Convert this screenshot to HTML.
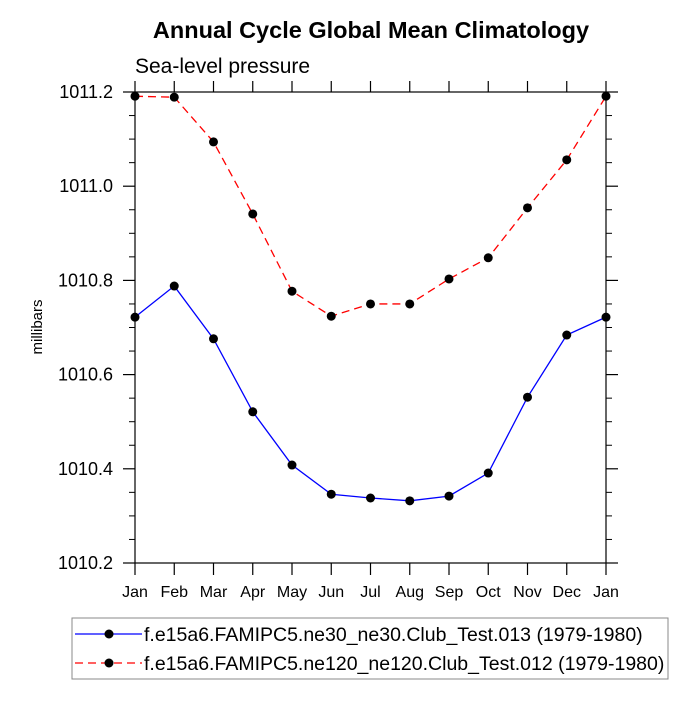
<!DOCTYPE html>
<html><head><meta charset="utf-8"><style>
html,body{margin:0;padding:0;background:#fff;}
svg text{font-family:"Liberation Sans",Arial,sans-serif;}
</style></head><body>
<svg id="chart" width="699" height="699" viewBox="0 0 699 699" xmlns="http://www.w3.org/2000/svg">
<text x="371" y="38" text-anchor="middle" font-size="23.5" font-weight="bold">Annual Cycle Global Mean Climatology</text>
<text x="135" y="73" font-size="21">Sea-level pressure</text>
<text transform="translate(42,327) rotate(-90)" text-anchor="middle" font-size="15">millibars</text>
<g id="axes"></g>
<g id="series"></g>
<rect x="72" y="618" width="596" height="61" fill="none" stroke="#888" stroke-width="1"/>
<g>
<line x1="75" y1="634" x2="142" y2="634" stroke="#0000ff" stroke-width="1.3"/>
<circle cx="109" cy="634" r="4.5" fill="#000"/>
<text x="144" y="641" font-size="19.5">f.e15a6.FAMIPC5.ne30_ne30.Club_Test.013 (1979-1980)</text>
</g>
<g>
<line x1="75" y1="663" x2="142" y2="663" stroke="#ff0000" stroke-width="1.3" stroke-dasharray="8,5"/>
<circle cx="109" cy="663" r="4.5" fill="#000"/>
<text x="144" y="670" font-size="19.5">f.e15a6.FAMIPC5.ne120_ne120.Club_Test.012 (1979-1980)</text>
</g>
</svg>
<script>
const months = ["Jan","Feb","Mar","Apr","May","Jun","Jul","Aug","Sep","Oct","Nov","Dec","Jan"];
const yTicks = [1010.2,1010.4,1010.6,1010.8,1011.0,1011.2];
const yTickLabels = ["1010.2","1010.4","1010.6","1010.8","1011.0","1011.2"];
const ne30Values = [1010.722,1010.788,1010.676,1010.521,1010.408,1010.346,1010.338,1010.332,1010.342,1010.391,1010.552,1010.684,1010.722];
const ne120Values = [1011.191,1011.189,1011.094,1010.941,1010.777,1010.724,1010.750,1010.750,1010.803,1010.848,1010.954,1011.056,1011.191];

const L=135,R=606,T=92,B=563,yMin=1010.2,yMax=1011.2;
const xs=i=>L+(R-L)*i/(months.length-1);
const ys=v=>B-(v-yMin)/(yMax-yMin)*(B-T);
const NS="http://www.w3.org/2000/svg";
function mk(tag,attrs,parent){const e=document.createElementNS(NS,tag);for(const k in attrs)e.setAttribute(k,attrs[k]);parent.appendChild(e);return e;}
const axes=document.getElementById('axes');
const frame=mk('rect',{x:L,y:T,width:R-L,height:B-T,fill:'none',stroke:'#000','stroke-width':1.2},axes);


months.forEach((m,i)=>{
  const x=xs(i);
  mk('line',{x1:x,y1:B,x2:x,y2:B+12,stroke:'#000','stroke-width':1.2},axes);
  mk('line',{x1:x,y1:T,x2:x,y2:T-11,stroke:'#000','stroke-width':1.2},axes);
  const t=mk('text',{x:x,y:B+34,'text-anchor':'middle','font-size':16},axes);
  t.textContent=m;
  
  
});
yTicks.forEach((v,i)=>{
  const y=ys(v);
  mk('line',{x1:L-12,y1:y,x2:L,y2:y,stroke:'#000','stroke-width':1.2},axes);
  mk('line',{x1:R,y1:y,x2:R+12,y2:y,stroke:'#000','stroke-width':1.2},axes);
  const t=mk('text',{x:113,y:y+6,'text-anchor':'end','font-size':18},axes);
  t.textContent=yTickLabels[i];
  
  
  if(i<yTicks.length-1){for(let k=1;k<4;k++){const ym=ys(v+(yTicks[i+1]-v)*k/4);
    mk('line',{x1:L-6,y1:ym,x2:L,y2:ym,stroke:'#000','stroke-width':1},axes);
    mk('line',{x1:R,y1:ym,x2:R+6,y2:ym,stroke:'#000','stroke-width':1},axes);}}
});
const sg=document.getElementById('series');
function drawSeries(vals,color,dash,name){
  const g=mk('g',{},sg);
  
  
  const pts=vals.map((v,i)=>xs(i)+','+ys(v)).join(' ');
  const a={points:pts,fill:'none',stroke:color,'stroke-width':1.3};
  if(dash)a['stroke-dasharray']=dash;
  mk('polyline',a,g);
  vals.forEach((v,i)=>{const c=mk('circle',{cx:xs(i),cy:ys(v),r:4.5,fill:'#000'},g);
    
    });
}
drawSeries(ne30Values,'#0000ff',null,'series-ne30');
drawSeries(ne120Values,'#ff0000','8,5','series-ne120');
</script>
</body></html>
